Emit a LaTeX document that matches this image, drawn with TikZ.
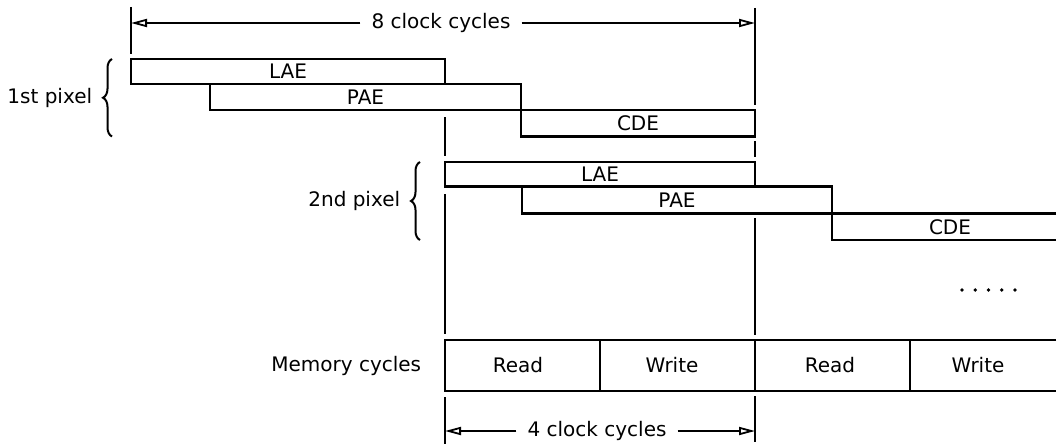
\documentclass[tikz,border=0pt]{standalone}
\usepackage{fontspec}
\setmainfont{DejaVu Sans}
\usetikzlibrary{arrows.meta,decorations.pathreplacing}

\begin{document}
\begin{tikzpicture}[x=0.5pt, y=-0.5pt, line width=1.2pt,
    font=\fontsize{10}{12}\selectfont,
    dimarrow/.style={-{Triangle[open,length=8pt,width=4pt]}, line width=0.9pt},
    pixbrace/.style={decorate, decoration={brace, amplitude=4.5pt}, line width=1pt},
    cyclelbl/.style={inner sep=5pt}]
  \useasboundingbox (0,0) rectangle (1058,444);

  % Clock cycle dimension arrows
  \coordinate (c8l) at (131,23);
  \coordinate (c8r) at (755,23);
  \coordinate (c4l) at (445,431);
  \coordinate (c4r) at (755,431);
  \node[cyclelbl] (c8) at (441,23) {8 clock cycles};
  \draw[dimarrow] (c8) -- (c8l);
  \draw[dimarrow] (c8) -- (c8r);
  \node[cyclelbl] (c4) at (597,431) {4 clock cycles};
  \draw[dimarrow] (c4) -- (c4l);
  \draw[dimarrow] (c4) -- (c4r);

  % Guide lines
  \draw (131,7) -- (131,54);
  \foreach \a/\b in {117/156, 194/334, 397/444}
    \draw (445,\a) -- (445,\b);
  \foreach \a/\b in {8/105, 141/157, 218/335, 396/442}
    \draw (755,\a) -- (755,\b);

  % 1st pixel stages
  \draw (131,59) rectangle (445,84) node[midway] (lae1) {LAE};
  \draw (210,84) rectangle (521,110) node[midway] (pae1) {PAE};
  \draw (521,110) rectangle (755,136.5) node[midway] (cde1) {CDE};
  \draw[pixbrace] (112,136.5) -- (112,59);
  \node[anchor=east] (px1) at (100,97.5) {1st pixel};

  % 2nd pixel stages
  \draw (445,162) rectangle (755,186.5) node[midway] (lae2) {LAE};
  \draw (522,186.5) rectangle (832,213.5) node[midway] (pae2) {PAE};
  \draw (1056,213.5) -| (832,240) -- (1056,240);
  \node (cde2) at (950,227) {CDE};
  \draw[pixbrace] (420,240) -- (420,162);
  \node[anchor=east] (px2) at (408,201) {2nd pixel};

  % Further pixels
  \foreach \i in {0,...,4}
    \fill (962+13.25*\i,290) circle[radius=0.9pt];

  % Memory cycles
  \node[anchor=east] (mem) at (429,366) {Memory cycles};
  \draw (1056,340) -| (445,391) -- (1056,391);
  \foreach \x in {600,755,910}
    \draw (\x,340) -- (\x,391);
  \foreach \x/\t [count=\i] in {518/Read, 672/Write, 830/Read, 978/Write}
    \node (mc\i) at (\x,365) {\t};
\end{tikzpicture}
\end{document}
